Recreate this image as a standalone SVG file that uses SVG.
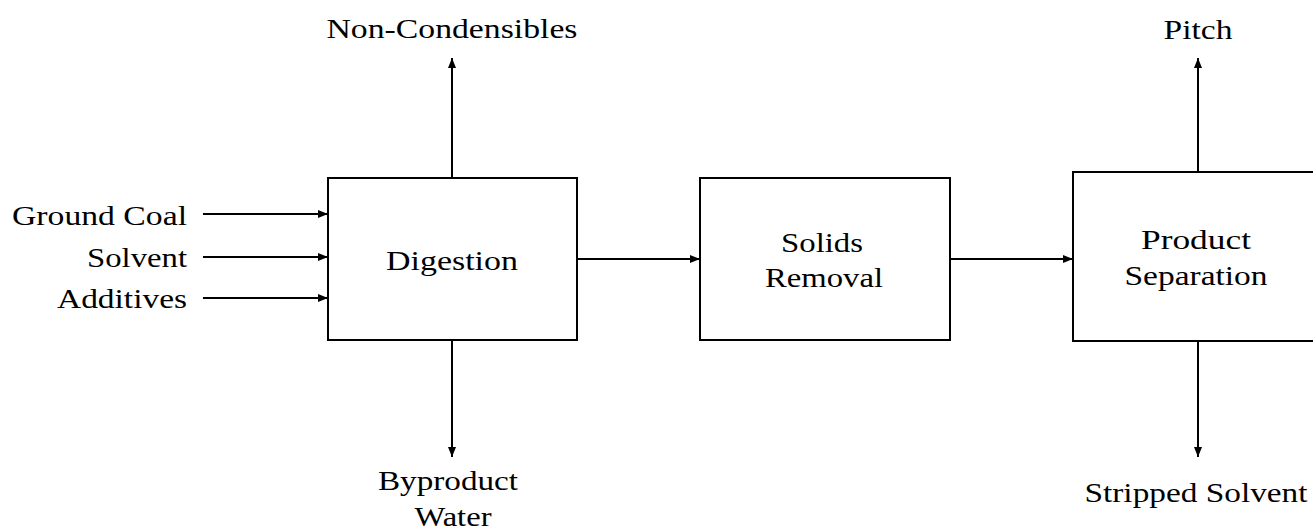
<svg xmlns="http://www.w3.org/2000/svg" width="1313" height="530" viewBox="0 0 1313 530">
<defs>
<marker id="ah" viewBox="0 0 10 8" refX="10" refY="4" markerWidth="10" markerHeight="8" markerUnits="userSpaceOnUse" orient="auto">
<path d="M0,0 L10,4 L0,8 Z" fill="#000"/>
</marker>
<style>
.box{fill:#fff;stroke:#000;stroke-width:2}
.c{fill:none;stroke:#000;stroke-width:2;marker-end:url(#ah)}
text{font-family:"Liberation Serif","Times New Roman",serif;font-size:28px;fill:#000}
.m{text-anchor:middle}
.e{text-anchor:end}
</style>
</defs>
<rect width="1313" height="530" fill="#fff"/>
<g id="connectors">
<line class="c" x1="203" y1="214" x2="328" y2="214"/>
<line class="c" x1="203" y1="257" x2="328" y2="257"/>
<line class="c" x1="203" y1="298" x2="328" y2="298"/>
<line class="c" x1="452" y1="178" x2="452" y2="58"/>
<line class="c" x1="452" y1="340" x2="452" y2="457"/>
<line class="c" x1="577" y1="259" x2="700" y2="259"/>
<line class="c" x1="950" y1="259" x2="1073" y2="259"/>
<line class="c" x1="1198" y1="172" x2="1198" y2="58"/>
<line class="c" x1="1198" y1="341" x2="1198" y2="457"/>
</g>
<g id="digestion">
<rect class="box" x="328" y="178" width="249" height="162"/>
<text class="m" x="452" y="270" textLength="132" lengthAdjust="spacingAndGlyphs">Digestion</text>
</g>
<g id="solids-removal">
<rect class="box" x="700" y="178" width="250" height="162"/>
<text class="m" x="822" y="252" textLength="82" lengthAdjust="spacingAndGlyphs">Solids</text>
<text class="m" x="824" y="287" textLength="118" lengthAdjust="spacingAndGlyphs">Removal</text>
</g>
<g id="product-separation">
<rect class="box" x="1073" y="172" width="250" height="169"/>
<text class="m" x="1196" y="249" textLength="110" lengthAdjust="spacingAndGlyphs">Product</text>
<text class="m" x="1196" y="285" textLength="143" lengthAdjust="spacingAndGlyphs">Separation</text>
</g>
<g id="inputs">
<text class="e" x="187" y="225" textLength="175" lengthAdjust="spacingAndGlyphs">Ground Coal</text>
<text class="e" x="187" y="267" textLength="100" lengthAdjust="spacingAndGlyphs">Solvent</text>
<text class="e" x="187" y="308" textLength="130" lengthAdjust="spacingAndGlyphs">Additives</text>
</g>
<g id="outputs">
<text class="m" x="452" y="38" textLength="251" lengthAdjust="spacingAndGlyphs">Non-Condensibles</text>
<text class="m" x="1198" y="39" textLength="69" lengthAdjust="spacingAndGlyphs">Pitch</text>
<text class="m" x="448" y="490" textLength="140" lengthAdjust="spacingAndGlyphs">Byproduct</text>
<text class="m" x="453" y="526" textLength="77" lengthAdjust="spacingAndGlyphs">Water</text>
<text class="m" x="1196" y="502" textLength="223" lengthAdjust="spacingAndGlyphs">Stripped Solvent</text>
</g>
</svg>
